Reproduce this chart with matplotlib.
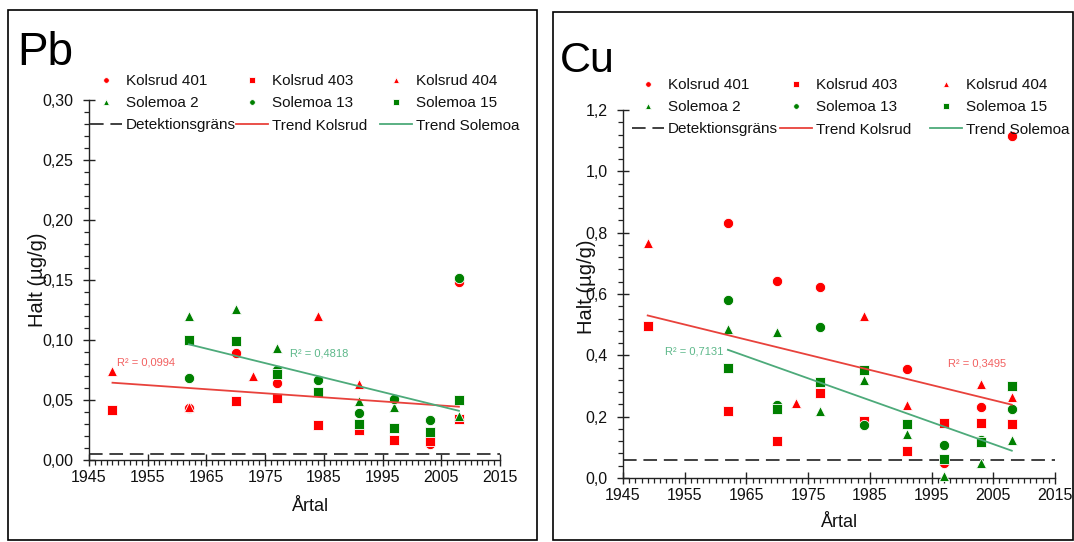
import matplotlib
matplotlib.use("Agg")
import matplotlib.pyplot as plt
from matplotlib.patches import Rectangle
from matplotlib.ticker import FixedLocator, FixedFormatter, MultipleLocator

plt.rcParams['font.family'] = ['Liberation Sans', 'DejaVu Sans']

# ---------------- data ----------------
x_ticks = [1945, 1955, 1965, 1975, 1985, 1995, 2005, 2015]
x_tick_labels = ["1945", "1955", "1965", "1975", "1985", "1995", "2005", "2015"]

pb_y_ticks = [0.0, 0.05, 0.10, 0.15, 0.20, 0.25, 0.30]
pb_y_tick_labels = ["0,00", "0,05", "0,10", "0,15", "0,20", "0,25", "0,30"]
cu_y_ticks = [0.0, 0.2, 0.4, 0.6, 0.8, 1.0, 1.2]
cu_y_tick_labels = ["0,0", "0,2", "0,4", "0,6", "0,8", "1,0", "1,2"]

series_names = ["Kolsrud 401", "Kolsrud 403", "Kolsrud 404",
                "Solemoa 2", "Solemoa 13", "Solemoa 15"]

# Pb
pb_k401_years = [1962, 1970, 1977, 2003, 2008]
pb_k401 = [0.043, 0.089, 0.064, 0.013, 0.148]
pb_k403_years = [1949, 1970, 1977, 1984, 1991, 1997, 2003, 2008]
pb_k403 = [0.042, 0.049, 0.052, 0.029, 0.025, 0.017, 0.016, 0.034]
pb_k404_years = [1949, 1962, 1973, 1984, 1991, 2008]
pb_k404 = [0.074, 0.044, 0.070, 0.120, 0.063, 0.051]
pb_s2_years = [1962, 1970, 1977, 1991, 1997, 2008]
pb_s2 = [0.120, 0.126, 0.093, 0.049, 0.044, 0.037]
pb_s13_years = [1962, 1977, 1984, 1991, 1997, 2003, 2008]
pb_s13 = [0.068, 0.075, 0.067, 0.039, 0.051, 0.033, 0.152]
pb_s15_years = [1962, 1970, 1977, 1984, 1991, 1997, 2003, 2008]
pb_s15 = [0.100, 0.099, 0.072, 0.057, 0.030, 0.027, 0.023, 0.050]
pb_trend_k_years = [1949, 2008]
pb_trend_k = [0.0644, 0.0444]
pb_trend_s_years = [1962, 2008]
pb_trend_s = [0.0964, 0.041]
pb_detection = 0.005
pb_r2_k = "R² = 0,0994"
pb_r2_s = "R² = 0,4818"

# Cu
cu_k401_years = [1962, 1970, 1977, 1991, 1997, 2003, 2008]
cu_k401 = [0.83, 0.643, 0.623, 0.355, 0.05, 0.233, 1.116]
cu_k403_years = [1949, 1962, 1970, 1977, 1984, 1991, 1997, 2003, 2008]
cu_k403 = [0.495, 0.217, 0.12, 0.277, 0.185, 0.089, 0.18, 0.18, 0.175]
cu_k404_years = [1949, 1973, 1984, 1991, 2003, 2008]
cu_k404 = [0.766, 0.245, 0.527, 0.239, 0.305, 0.263]
cu_s2_years = [1962, 1970, 1977, 1984, 1991, 1997, 2003, 2008]
cu_s2 = [0.485, 0.476, 0.22, 0.32, 0.143, 0.005, 0.05, 0.125]
cu_s13_years = [1962, 1970, 1977, 1984, 1997, 2003, 2008]
cu_s13 = [0.58, 0.239, 0.491, 0.174, 0.107, 0.125, 0.225]
cu_s15_years = [1962, 1970, 1977, 1984, 1991, 1997, 2003, 2008]
cu_s15 = [0.358, 0.225, 0.312, 0.351, 0.177, 0.062, 0.117, 0.30]
cu_trend_k_years = [1949, 2008]
cu_trend_k = [0.530, 0.239]
cu_trend_s_years = [1962, 2008]
cu_trend_s = [0.418, 0.089]
cu_detection = 0.059
cu_r2_k = "R² = 0,3495"
cu_r2_s = "R² = 0,7131"

# ---------------- style ----------------
RED = "#FF0000"
GREEN = "#008000"
TREND_RED = "#E8423C"
TREND_GREEN = "#4DAA7A"
R2_RED = "#F26060"
R2_GREEN = "#5DB88A"
AXC = "#222222"
markers = ["o", "s", "^", "^", "o", "s"]
colors = [RED, RED, RED, GREEN, GREEN, GREEN]
MS = 7.4

W, H = 1074, 542
fig = plt.figure(figsize=(W / 100, H / 100), dpi=100)


def fx(px):
    return px / W


def fy(py):
    return 1 - py / H


# panel boxes
fig.patches.append(Rectangle((fx(8), fy(540)), fx(529), 530 / H, transform=fig.transFigure,
                             fill=False, edgecolor="black", lw=1.2))
fig.patches.append(Rectangle((fx(553), fy(540)), fx(520), 528 / H, transform=fig.transFigure,
                             fill=False, edgecolor="black", lw=1.2))


def make_panel(rect, ylim, yticks, yticklabels, yminor, data, trend_k, trend_s, det,
               r2k, r2k_pos, r2s, r2s_pos, title, title_xy, title_size,
               ylabel_xy, xlabel_xy, legend_cols_x, legend_top):
    ax = fig.add_axes(rect)
    ax.set_xlim(1945, 2015)
    ax.set_ylim(*ylim)
    for sp in ["top", "right"]:
        ax.spines[sp].set_visible(False)
    for sp in ["left", "bottom"]:
        ax.spines[sp].set_color(AXC)
        ax.spines[sp].set_linewidth(1.0)
    ax.xaxis.set_major_locator(FixedLocator(x_ticks))
    ax.xaxis.set_major_formatter(FixedFormatter(x_tick_labels))
    ax.xaxis.set_minor_locator(MultipleLocator(1))
    ax.yaxis.set_major_locator(FixedLocator(yticks))
    ax.yaxis.set_major_formatter(FixedFormatter(yticklabels))
    ax.yaxis.set_minor_locator(MultipleLocator(yminor))
    ax.tick_params(which="major", direction="inout", length=8, width=1.0, color=AXC,
                   labelsize=11.5, labelcolor="#111111")
    ax.tick_params(which="minor", direction="out", length=3.5, width=0.9, color=AXC)
    ax.tick_params(axis="y", which="major", pad=7)
    ax.tick_params(axis="x", which="major", pad=3)
    ax.patch.set_alpha(0)

    # detection limit
    det_line, = ax.plot([1945, 2015], [det, det], ls=(0, (7, 3.5)), color="#404040", lw=1.4,
                        clip_on=False, zorder=2)
    handles = []
    for (yrs, vals), m, c, name in zip(data, markers, colors, series_names):
        h, = ax.plot(yrs, vals, ls="none", marker=m, ms=MS, color=c, mec="white",
                     mew=0.6, label=name, zorder=3, clip_on=False)
        handles.append(h)
    tk, = ax.plot(trend_k[0], trend_k[1], color=TREND_RED, lw=1.3, zorder=4)
    ts, = ax.plot(trend_s[0], trend_s[1], color=TREND_GREEN, lw=1.3, zorder=4)

    ax.text(r2k_pos[0], r2k_pos[1], r2k, color=R2_RED, fontsize=8, va="center", ha="left")
    ax.text(r2s_pos[0], r2s_pos[1], r2s, color=R2_GREEN, fontsize=8, va="center", ha="left")

    ax.set_ylabel("Halt (µg/g)", fontsize=14.5, color="#111111")
    ax.yaxis.set_label_coords(*ylabel_xy)
    ax.set_xlabel("Årtal", fontsize=13, color="#111111")
    ax.xaxis.set_label_coords(*xlabel_xy)

    fig.text(fx(title_xy[0]), fy(title_xy[1]), title, fontsize=title_size,
             va="baseline", ha="left")

    cols = [
        ([handles[0], handles[3], det_line], [series_names[0], series_names[3], "Detektionsgräns"]),
        ([handles[1], handles[4], tk], [series_names[1], series_names[4], "Trend Kolsrud"]),
        ([handles[2], handles[5], ts], [series_names[2], series_names[5], "Trend Solemoa"]),
    ]
    for (hs, ls), x0 in zip(cols, legend_cols_x):
        leg = fig.legend(hs, ls, loc="upper left",
                         bbox_to_anchor=(fx(x0), fy(legend_top)),
                         bbox_transform=fig.transFigure, frameon=False,
                         fontsize=11, handlelength=2.1, handletextpad=0.25,
                         labelspacing=0.54, borderpad=0, borderaxespad=0,
                         markerscale=0.55)
        for t in leg.get_texts():
            t.set_color("#111111")
    return ax


# Pb panel: axes 89..500 px wide, 100..460 px tall
make_panel([fx(89), fy(460), fx(411), 360 / H], (0, 0.30), pb_y_ticks, pb_y_tick_labels, 0.01,
           [(pb_k401_years, pb_k401), (pb_k403_years, pb_k403), (pb_k404_years, pb_k404),
            (pb_s2_years, pb_s2), (pb_s13_years, pb_s13), (pb_s15_years, pb_s15)],
           (pb_trend_k_years, pb_trend_k), (pb_trend_s_years, pb_trend_s), pb_detection,
           pb_r2_k, (1949.8, 0.081), pb_r2_s, (1979.2, 0.089),
           "Pb", (17, 65), 33, (-0.102, 0.5), (0.538, -0.106),
           [90, 236, 380], 74)

# Cu panel: axes 623..1055 px wide, 110..478 px tall
make_panel([fx(623), fy(478), fx(432), 368 / H], (0, 1.2), cu_y_ticks, cu_y_tick_labels, 0.04,
           [(cu_k401_years, cu_k401), (cu_k403_years, cu_k403), (cu_k404_years, cu_k404),
            (cu_s2_years, cu_s2), (cu_s13_years, cu_s13), (cu_s15_years, cu_s15)],
           (cu_trend_k_years, cu_trend_k), (cu_trend_s_years, cu_trend_s), cu_detection,
           cu_r2_k, (1997.7, 0.373), cu_r2_s, (1951.8, 0.412),
           "Cu", (560, 72), 31, (-0.0625, 0.52), (0.502, -0.098),
           [632, 780, 930], 78)

fig.savefig("out.png", dpi=100)
